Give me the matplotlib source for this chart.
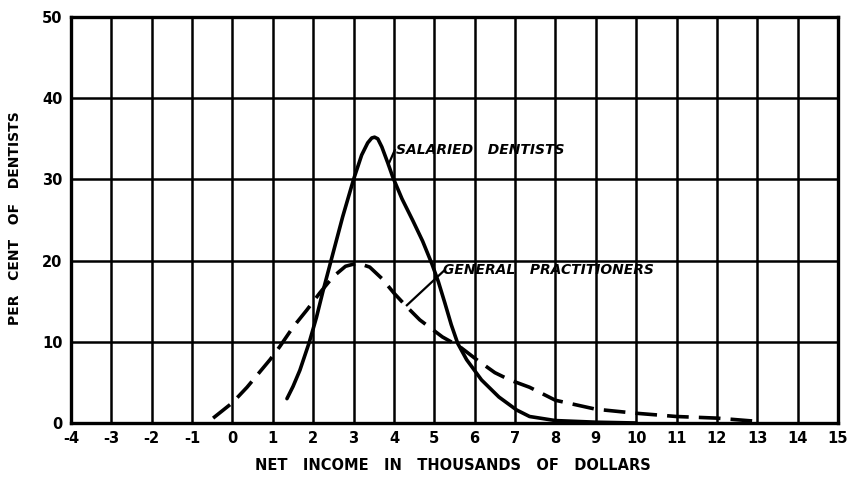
import matplotlib
matplotlib.use("Agg")
import matplotlib.pyplot as plt

# ---- data ----
sal_x = [1.35, 1.5, 1.67, 1.9, 2.08, 2.24, 2.41, 2.73, 3.0, 3.2, 3.35, 3.45, 3.52, 3.6,
         3.7, 3.85, 3.97, 4.2, 4.47, 4.71, 4.94, 5.1, 5.26, 5.42, 5.58, 5.8, 6.17,
         6.6, 7.04, 7.36, 8.0, 9.0, 10.0]
sal_y = [3.0, 4.5, 6.5, 9.9, 13.0, 16.2, 19.4, 25.4, 30.0, 33.0, 34.5, 35.1, 35.2, 35.0,
         34.0, 32.0, 30.3, 27.6, 24.9, 22.4, 19.6, 17.4, 14.8, 12.1, 9.8, 7.8, 5.3,
         3.2, 1.6, 0.8, 0.3, 0.1, 0.0]

gp_x = [-0.48, 0.0, 0.36, 0.93, 1.17, 1.5, 1.84, 2.16, 2.49, 2.8, 3.1, 3.4, 3.7,
        4.0, 4.3, 4.64, 5.2, 5.63, 6.05, 6.5, 6.87, 7.36, 8.0, 9.0, 10.0, 11.0, 12.0, 13.0]
gp_y = [0.6, 2.5, 4.4, 7.8, 9.4, 11.8, 13.9, 16.0, 18.0, 19.3, 19.7, 19.2, 17.8,
        16.0, 14.4, 12.7, 10.6, 9.4, 7.8, 6.2, 5.3, 4.4, 2.8, 1.7, 1.2, 0.8, 0.6, 0.2]

x_ticks = list(range(-4, 16))
y_ticks = [0, 10, 20, 30, 40, 50]

sal_label = "SALARIED   DENTISTS"
gp_label = "GENERAL   PRACTITIONERS"
x_title = "NET   INCOME   IN   THOUSANDS   OF   DOLLARS"
y_title = "PER   CENT   OF   DENTISTS"

# ---- figure ----
fig = plt.figure(figsize=(8.49, 4.83), dpi=100)
ax = fig.add_axes([71 / 849, 1 - 423 / 483, (838 - 71) / 849, (423 - 17) / 483])
ax.set_xlim(-4, 15)
ax.set_ylim(0, 50)

for xv in x_ticks:
    ax.axvline(xv, color="black", lw=1.8, zorder=1)
for yv in y_ticks:
    ax.axhline(yv, color="black", lw=1.8, zorder=1)

for s in ax.spines.values():
    s.set_linewidth(2.4)

ax.plot(sal_x, sal_y, color="black", lw=2.6, solid_capstyle="round",
        solid_joinstyle="round", zorder=3)
ax.plot(gp_x, gp_y, color="black", lw=2.6, linestyle=(0, (6, 2.8)), zorder=3)

# annotations
ax.plot([3.86, 4.02], [31.8, 33.6], color="black", lw=1.6, zorder=3)
ax.text(4.05, 33.6, sal_label, fontsize=10, fontweight="bold", fontstyle="italic",
        va="center", ha="left", zorder=4)
ax.plot([4.32, 5.25], [14.5, 18.8], color="black", lw=1.6, zorder=3)
ax.text(5.22, 18.8, gp_label, fontsize=10, fontweight="bold", fontstyle="italic",
        va="center", ha="left", zorder=4)

ax.set_xticks(x_ticks)
ax.set_xticklabels([str(v) for v in x_ticks])
ax.set_yticks(y_ticks)
ax.set_yticklabels([str(v) for v in y_ticks])
ax.tick_params(length=0, labelsize=10.5, pad=6)
for lab in ax.get_xticklabels() + ax.get_yticklabels():
    lab.set_fontweight("bold")

fig.text(453 / 849, 1 - 465 / 483, x_title, ha="center", va="center",
         fontsize=10.5, fontweight="bold")
fig.text(15 / 849, 1 - 218 / 483, y_title, ha="center", va="center",
         rotation=90, fontsize=10, fontweight="bold")

fig.savefig("out.png", dpi=100, facecolor="white")
